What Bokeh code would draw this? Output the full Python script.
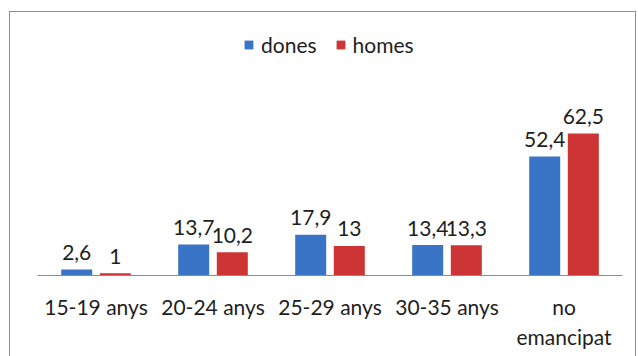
from bokeh.plotting import figure
from bokeh.models import ColumnDataSource, Range1d, Legend, LegendItem
from bokeh.transform import dodge
from bokeh.core.properties import value
from bokeh.embed import file_html
from bokeh.resources import INLINE

categories = ["15-19 anys", "20-24 anys", "25-29 anys", "30-35 anys", "no\nemancipat"]
dones = [2.6, 13.7, 17.9, 13.4, 52.4]
homes = [1.0, 10.2, 13.0, 13.3, 62.5]
series_names = ["dones", "homes"]

def fmt(v):
    return f"{v:g}".replace(".", ",")

src = ColumnDataSource(dict(
    cat=categories,
    dones=dones,
    homes=homes,
    dones_lbl=[fmt(v) for v in dones],
    homes_lbl=[fmt(v) for v in homes],
))

FONT = "Lato"
BLUE = "#3a74c6"
RED = "#cd3434"
FS = "21px"

p = figure(
    x_range=categories,
    y_range=Range1d(0, 112.3),
    width=638, height=356,
    output_backend="svg", toolbar_location=None,
    min_border_left=37, min_border_right=16, min_border_top=20, min_border_bottom=81,
)
p.x_range.range_padding = 0
p.border_fill_color = None
p.background_fill_color = None
p.outline_line_color = None
p.grid.visible = False
p.yaxis.visible = False

line = "linear-gradient(#8c8c8c,#8c8c8c)"
p.styles = {
    "background": (
        f"{line} left 9px top 11px / 1px calc(100% - 11px) no-repeat, "
        f"{line} left 9px top 11px / 627px 1px no-repeat, "
        f"{line} left 635px top 11px / 1px calc(100% - 11px) no-repeat"
    )
}

r1 = p.vbar(x=dodge("cat", -0.165, range=p.x_range), top="dones", width=0.265,
            source=src, fill_color=BLUE, line_color=None)
r2 = p.vbar(x=dodge("cat", 0.165, range=p.x_range), top="homes", width=0.265,
            source=src, fill_color=RED, line_color=None)

for col, off in (("dones", -0.165), ("homes", 0.165)):
    p.text(x=dodge("cat", off, range=p.x_range), y=col, text=col + "_lbl", source=src,
           text_align="center", text_baseline="alphabetic", y_offset=-17,
           text_font=value(FONT), text_font_size=FS, text_color="#1e1e1e")

ax = p.xaxis[0]
ax.axis_line_color = "#8c8c8c"
ax.axis_line_width = 1
ax.major_tick_line_color = None
ax.minor_tick_line_color = None
ax.major_tick_out = 0
ax.major_tick_in = 0
ax.major_label_standoff = 18
ax.major_label_text_font = FONT
ax.major_label_text_font_size = FS
ax.major_label_text_color = "#1e1e1e"

legend = Legend(items=[LegendItem(label=series_names[0], renderers=[r1]),
                       LegendItem(label=series_names[1], renderers=[r2])],
                location=(206, 218), orientation="horizontal")
legend.background_fill_alpha = 0
legend.border_line_color = None
legend.padding = 0
legend.margin = 0
legend.spacing = 18
legend.glyph_width = 11
legend.glyph_height = 11
legend.label_standoff = 7
legend.label_text_font = FONT
legend.label_text_font_size = FS
legend.label_text_color = "#1e1e1e"
p.add_layout(legend)

open("out.html", "w").write(file_html(p, INLINE))
